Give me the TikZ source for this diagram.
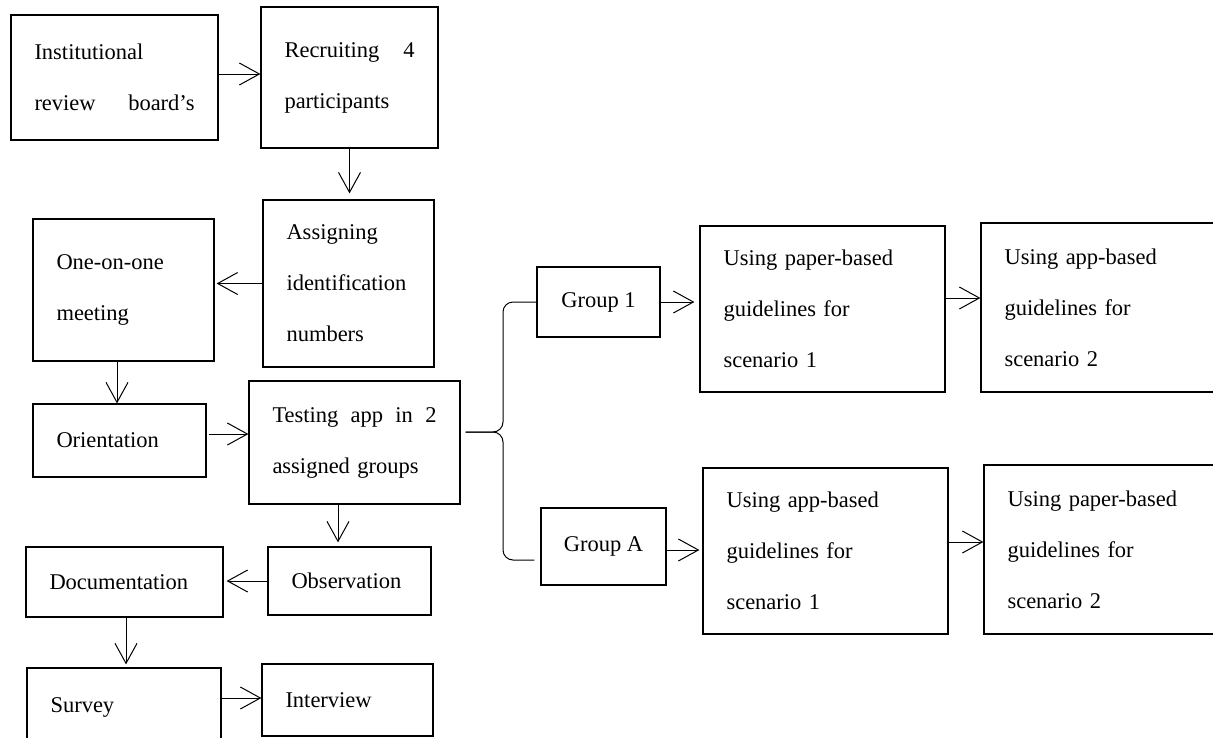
\documentclass[tikz,border=0pt]{standalone}
\usepackage{fontspec}
\setmainfont{Liberation Serif}
\usetikzlibrary{arrows.meta}

\begin{document}
\begin{tikzpicture}[x=1pt,y=-1pt,
  stage/.style={draw, line width=1.2pt, inner xsep=23.5pt, inner ysep=0pt, align=left,
    font=\fontsize{22.5}{51}\selectfont},
  grp/.style={draw, line width=1.2pt, align=center, font=\fontsize{22.5}{27}\selectfont},
  flow/.style={-{Straight Barb[length=20pt,width=22pt]}, line width=1pt}]

\useasboundingbox (0,0) rectangle (1213,737);

% Left column
\node[stage, minimum width=207pt, minimum height=125pt, text width=160pt] (irb) at (114.5,77.5) {Institutional\\ review\hfill board's};
\node[stage, minimum width=177pt, minimum height=141pt, text width=130pt] (recruit) at (349.5,77.5) {Recruiting\hfill 4\\ participants};
\node[stage, minimum width=171pt, minimum height=167pt, text width=124pt] (assign) at (348.5,283.5) {Assigning\\ identification\\ numbers};
\node[stage, minimum width=181pt, minimum height=142pt, text width=134pt] (meet) at (123.5,290) {One-on-one\\ meeting};
\node[stage, minimum width=173pt, minimum height=73pt, text width=126pt] (orient) at (119.5,440.5) {Orientation};
\node[stage, minimum width=211pt, minimum height=123pt, text width=164pt] (test) at (354.5,442.5) {Testing\hfill app\hfill in\hfill 2\\ assigned groups};
\node[stage, minimum width=163pt, minimum height=68pt, text width=116pt] (observ) at (349.5,581) {Observation};
\node[stage, minimum width=197pt, minimum height=70pt, text width=150pt] (doc) at (124.5,582) {Documentation};
\node[stage, minimum width=194pt, minimum height=78pt, text width=147pt] (survey) at (124,707) {Survey};
\node[stage, minimum width=171pt, minimum height=72pt, text width=124pt] (interview) at (347.5,700) {Interview};

% Groups
\node[grp, minimum width=123pt, minimum height=70pt] (g1) at (598.5,302) {Group 1};
\node[grp, minimum width=125pt, minimum height=77pt] (gA) at (603.5,546.5) {Group A};
\node[stage, minimum width=245pt, minimum height=166pt, text width=198pt] (paper1) at (822.5,309) {Using paper-based\\ guidelines for\\ scenario 1};
\node[stage, minimum width=245pt, minimum height=166pt, text width=198pt] (app1) at (825.5,551) {Using app-based\\ guidelines for\\ scenario 1};
\node[stage, minimum width=245pt, minimum height=169pt, text width=198pt] (app2) at (1103.5,307.5) {Using app-based\\ guidelines for\\ scenario 2};
\node[stage, minimum width=245pt, minimum height=169pt, text width=198pt] (paper2) at (1106.5,549.5) {Using paper-based\\ guidelines for\\ scenario 2};

% Brace
\coordinate (fork) at (503,432);
\draw[line width=1pt, rounded corners=10pt] ([xshift=5pt,yshift=10.5pt]test.east) -- (fork) |- (g1.west);
\draw[line width=1pt, rounded corners=10pt] ([xshift=5pt,yshift=10.5pt]test.east) -- (fork) |- ([xshift=-6pt,yshift=-13.5pt]gA.west);

% Arrows
\draw[flow] ([yshift=3.5pt]irb.east) -- ([yshift=3.5pt]irb.east -| recruit.west);
\draw[flow, shorten >=6pt] (recruit.south) -- (recruit.south |- assign.north);
\draw[flow, shorten >=2pt] (assign.west) -- (assign.west -| meet.east);
\draw[flow] ([xshift=-6.5pt]meet.south) -- ([xshift=-6.5pt]meet.south |- orient.north);
\draw[flow, shorten <=2pt] ([yshift=6.5pt]orient.east) -- ([yshift=6.5pt]orient.east -| test.west);
\draw[flow, shorten >=4pt] ([xshift=-16.5pt]test.south) -- ([xshift=-16.5pt]test.south |- observ.north);
\draw[flow, shorten >=3pt] (observ.west) -- (observ.west -| doc.east);
\draw[flow, shorten >=3pt] ([xshift=1.5pt]doc.south) -- ([xshift=1.5pt]doc.south |- survey.north);
\draw[flow] ([yshift=9pt]survey.east) -- ([yshift=9pt]survey.east -| interview.west);
\draw[flow, shorten >=5pt] (g1.east) -- (g1.east -| paper1.west);
\draw[flow, shorten >=3pt] ([yshift=-3.5pt]gA.east) -- ([yshift=-3.5pt]gA.east -| app1.west);
\draw[flow] ([yshift=11pt]paper1.east) -- ([yshift=11pt]paper1.east -| app2.west);
\draw[flow] ([yshift=9pt]app1.east) -- ([yshift=9pt]app1.east -| paper2.west);

\end{tikzpicture}
\end{document}
